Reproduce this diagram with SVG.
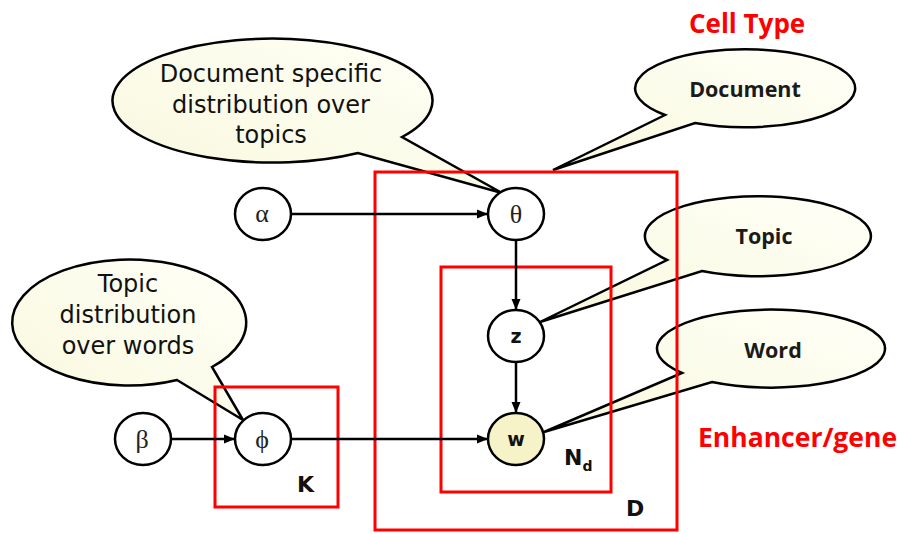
<svg xmlns="http://www.w3.org/2000/svg" width="899" height="534" viewBox="0 0 899 534">
  <style>
    .bubble { fill: url(#bubbleFill); stroke: #000; stroke-width: 2.5; stroke-linejoin: miter; }
    .note { font-family: "DejaVu Sans", sans-serif; font-size: 24px; fill: #111; text-anchor: middle; }
    .tag { font-family: "Open Sans", sans-serif; font-weight: bold; font-size: 21.5px; fill: #1a1a1a; text-anchor: middle; }
    .plate { fill: none; stroke: #ff0000; stroke-width: 3; }
    .plateLabel { font-family: "DejaVu Sans", sans-serif; font-weight: bold; fill: #111; }
    .node { fill: #fff; stroke: #000; stroke-width: 2.5; }
    .observed { fill: #f7f3c8; }
    .greek { font-family: "Liberation Serif", serif; font-size: 26px; fill: #222; text-anchor: middle; }
    .var { font-family: "DejaVu Sans", sans-serif; font-weight: bold; font-size: 19px; fill: #111; text-anchor: middle; }
    .edge { stroke: #000; stroke-width: 2.5; fill: none; marker-end: url(#arrow); }
    .red { font-family: "Open Sans", sans-serif; font-weight: bold; fill: #ff0000; }
  </style>
  <defs>
    <linearGradient id="bubbleFill" x1="0" y1="1" x2="1" y2="0">
      <stop offset="0" stop-color="#f8f8dd"/>
      <stop offset="1" stop-color="#fffff8"/>
    </linearGradient>
    <marker id="arrow" markerUnits="userSpaceOnUse" markerWidth="12" markerHeight="10" refX="11" refY="5" orient="auto">
      <path d="M0,0.5 L11,5 L0,9.5 Z" fill="#000"/>
    </marker>
  </defs>

  <!-- speech bubbles -->
  <g id="callout-doc-topics">
    <path class="bubble" d="M358,153 A160 62 0 1 1 402,137 L502,193 Z"/>
    <text class="note" x="271" y="82">Document specific</text>
    <text class="note" x="271" y="113">distribution over</text>
    <text class="note" x="271" y="143">topics</text>
  </g>
  <g id="callout-topic-words">
    <path class="bubble" d="M177,380 A117 63 0 1 1 212,367 L243,420 Z"/>
    <text class="note" x="128" y="292">Topic</text>
    <text class="note" x="128" y="323">distribution</text>
    <text class="note" x="128" y="354">over words</text>
  </g>
  <g id="callout-document">
    <path class="bubble" d="M665,115 A110 39 0 1 1 695,123 L553,170 Z"/>
    <text class="tag" x="745" y="97">Document</text>
  </g>
  <g id="callout-topic">
    <path class="bubble" d="M667,260 A113 40 0 1 1 702,271 L540,322 Z"/>
    <text class="tag" x="764" y="244">Topic</text>
  </g>
  <g id="callout-word">
    <path class="bubble" d="M682,373 A114 39 0 1 1 712,382 L544,432 Z"/>
    <text class="tag" x="773" y="358">Word</text>
  </g>

  <!-- plates -->
  <g id="plate-D">
    <rect class="plate" x="375" y="172" width="302" height="358"/>
    <text class="plateLabel" x="626" y="516" font-size="22">D</text>
  </g>
  <g id="plate-Nd">
    <rect class="plate" x="441" y="267" width="170" height="225"/>
    <text class="plateLabel" x="564" y="465" font-size="22">N<tspan font-size="14" dy="6">d</tspan></text>
  </g>
  <g id="plate-K">
    <rect class="plate" x="215" y="387" width="123" height="120"/>
    <text class="plateLabel" x="297" y="492" font-size="22">K</text>
  </g>

  <!-- connectors -->
  <g id="edges">
    <line class="edge" x1="291" y1="214" x2="488" y2="214"/>
    <line class="edge" x1="516" y1="240" x2="516" y2="310"/>
    <line class="edge" x1="516" y1="362" x2="516" y2="413"/>
    <line class="edge" x1="171" y1="439" x2="235" y2="439"/>
    <line class="edge" x1="291" y1="439" x2="488" y2="439"/>
  </g>

  <!-- variables -->
  <g id="node-alpha">
    <ellipse class="node" cx="263" cy="214" rx="28" ry="26"/>
    <text class="greek" x="262" y="222">α</text>
  </g>
  <g id="node-theta">
    <ellipse class="node" cx="516" cy="214" rx="28" ry="26"/>
    <text class="greek" x="516" y="223">θ</text>
  </g>
  <g id="node-z">
    <ellipse class="node" cx="516" cy="336" rx="28" ry="26"/>
    <text class="var" x="516" y="343">z</text>
  </g>
  <g id="node-w">
    <ellipse class="node observed" cx="516" cy="439" rx="28" ry="26"/>
    <text class="var" x="516" y="446">w</text>
  </g>
  <g id="node-beta">
    <ellipse class="node" cx="143" cy="439" rx="28" ry="26"/>
    <text class="greek" x="142" y="448">β</text>
  </g>
  <g id="node-phi">
    <ellipse class="node" cx="263" cy="439" rx="28" ry="26"/>
    <text class="greek" x="262" y="448">ϕ</text>
  </g>

  <!-- annotations -->
  <text class="red" x="689" y="33" font-size="26">Cell Type</text>
  <text class="red" x="698" y="447" font-size="26.5">Enhancer/gene</text>
</svg>
